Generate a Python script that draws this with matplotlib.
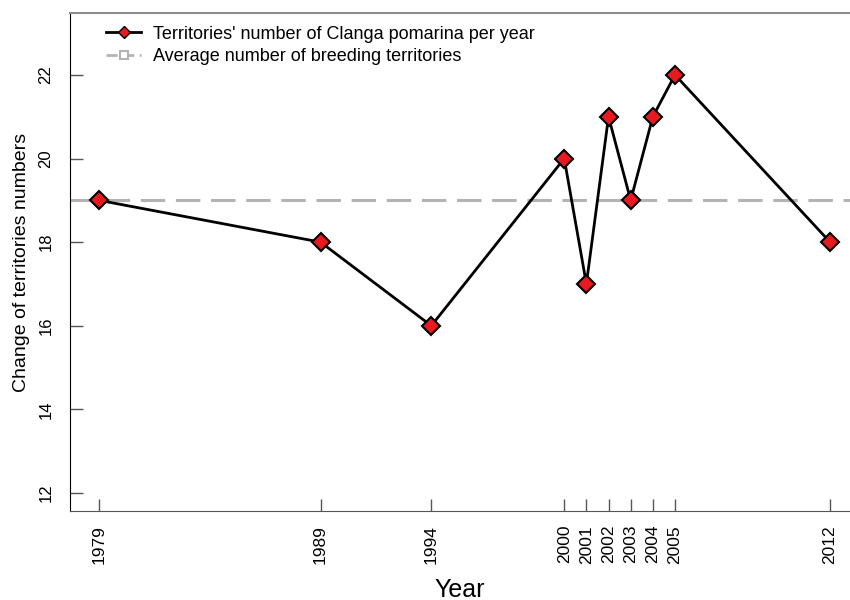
import matplotlib
matplotlib.use("Agg")
import matplotlib.pyplot as plt
from matplotlib.lines import Line2D

plt.rcParams['font.family'] = ['Liberation Sans', 'DejaVu Sans']

years = [1979, 1989, 1994, 2000, 2001, 2002, 2003, 2004, 2005, 2012]
territories = [19, 18, 16, 20, 17, 21, 19, 21, 22, 18]
average = 19
yticks = [12, 14, 16, 18, 20, 22]

fig = plt.figure(figsize=(8.5, 6), dpi=100)
ax = fig.add_axes([70 / 850, 89 / 600, 780 / 850, 498 / 600])

ax.axhline(average, color='#b3b3b3', lw=2.2, dashes=(8, 3.5), zorder=1)
ax.plot(years, territories, color='black', lw=2, marker='D', ms=9.5,
        mfc='#e8191f', mec='black', mew=1.5, zorder=3)

ax.set_xlim(1977.69, 2012.9)
ax.set_ylim(11.57, 23.48)
ax.set_xticks(years)
ax.set_xticklabels([str(y) for y in years], rotation=90)
ax.set_yticks(yticks)
ax.set_yticklabels([str(t) for t in yticks], rotation=90, va='center')
ax.tick_params(direction='in', length=9, color='#555555', width=1)
ax.tick_params(axis='x', pad=10, labelsize=12.5)
ax.tick_params(axis='y', pad=12, labelsize=12)

ax.spines['right'].set_visible(False)
ax.spines['top'].set_color('#8c8c8c')
ax.spines['top'].set_linewidth(1.5)
ax.spines['left'].set_color('black')
ax.spines['bottom'].set_color('#555555')

ax.set_xlabel('Year', fontsize=18, labelpad=10)
ax.set_ylabel('Change of territories numbers', fontsize=14, labelpad=6)

handles = [
    Line2D([], [], color='black', lw=2, marker='D', ms=6, mfc='#e8191f', mec='black'),
    Line2D([], [], color='#b3b3b3', lw=2, dashes=(4, 2), marker='s', ms=6,
           mfc='white', mec='#b3b3b3', mew=1.5),
]
ax.legend(handles, ["Territories' number of Clanga pomarina per year",
                    'Average number of breeding territories'],
          loc='upper left', frameon=False, fontsize=13, handlelength=1.95,
          handletextpad=0.65, borderaxespad=0.3, labelspacing=0.3,
          bbox_to_anchor=(0.03, 1.0))

fig.savefig('out.png', dpi=100)
